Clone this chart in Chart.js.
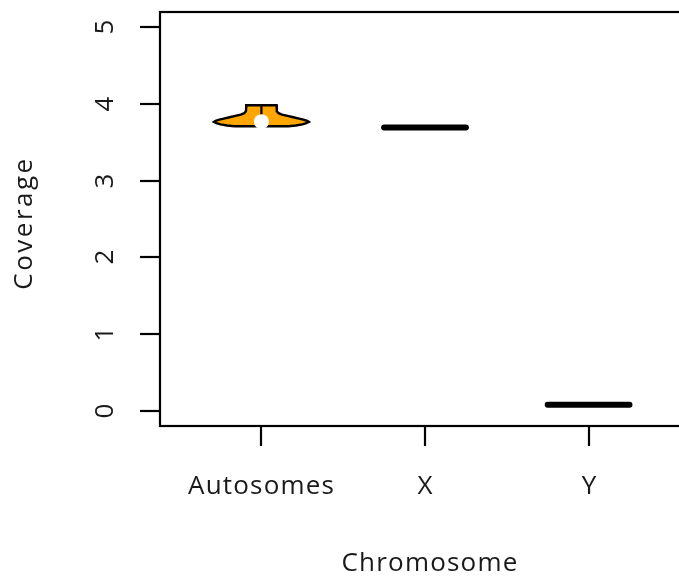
<!DOCTYPE html>
<html>
<head>
<meta charset="utf-8">
<title>Coverage par chromosome</title>
<script src="https://cdn.jsdelivr.net/npm/chart.js@4.4.1/dist/chart.umd.min.js"></script>
<style>
    html, body { margin: 0; padding: 0; background: #fff; overflow: hidden; }
    canvas { display: block; }
</style>
</head>
<body>
<canvas id="violinChart" width="700" height="580"></canvas>
<script>
// ==== DONNÉES ====

const categories = ['Autosomes', 'X', 'Y'];
const yTicks = [0, 1, 2, 3, 4, 5];

// Profil du violon "Autosomes" : niveaux de couverture et demi-largeur de densité
const autoLevels    = [3.709, 3.72, 3.735, 3.75, 3.766, 3.78, 3.796, 3.81, 3.827, 3.845, 3.861, 3.88, 3.905, 3.95, 3.983];
const autoHalfWidth = [0.165, 0.21, 0.25,  0.275, 0.29, 0.28, 0.257, 0.23, 0.195, 0.16,  0.126, 0.105, 0.095, 0.093, 0.093];
const autoMedian = 3.77;

// X et Y : valeurs constantes (violon aplati)
const flatLevels = [3.694, 0.078];
const flatHalfWidth = 0.25;

// ==== CONSTRUCTION DES JEUX DE DONNÉES ====

/**
 * Contour fermé du violon autour de la position x
 */
function violinOutline(pos, levels, widths) {
    const left = levels.map((y, i) => ({ x: pos - widths[i], y: y }));
    const right = levels.map((y, i) => ({ x: pos + widths[i], y: y })).reverse();
    return [...left, ...right, left[0]];
}

const autoMin = autoLevels[0];
const autoMax = autoLevels[autoLevels.length - 1];

const datasets = [
    {
        // Point médian blanc
        data: [{ x: 1, y: autoMedian }],
        pointRadius: 7.5,
        pointBackgroundColor: '#ffffff',
        pointBorderWidth: 0,
        showLine: false,
        order: 0
    },
    {
        // Moustache
        data: [{ x: 1, y: autoMin }, { x: 1, y: autoMax }],
        borderColor: '#000',
        borderWidth: 2.2,
        pointRadius: 0,
        showLine: true,
        order: 1
    },
    {
        // Violon
        data: violinOutline(1, autoLevels, autoHalfWidth),
        borderColor: '#000',
        borderWidth: 2.4,
        backgroundColor: '#FFA500',
        fill: 'shape',
        pointRadius: 0,
        tension: 0,
        showLine: true,
        order: 2
    }
];

// Lignes aplaties pour X et Y
flatLevels.forEach((level, i) => {
    const pos = i + 2;
    datasets.push({
        data: [{ x: pos - flatHalfWidth, y: level }, { x: pos + flatHalfWidth, y: level }],
        borderColor: '#000',
        borderWidth: 6,
        borderCapStyle: 'round',
        pointRadius: 0,
        showLine: true,
        order: 3
    });
});

// ==== AXES STYLE R ====

const FONT = '500 26px "Open Sans", sans-serif';

const rAxesPlugin = {
    id: 'rAxes',
    afterDraw(chart) {
        const ctx = chart.ctx;
        const area = chart.chartArea;
        const xs = chart.scales.x;
        const ys = chart.scales.y;

        ctx.save();
        ctx.strokeStyle = '#000';
        ctx.fillStyle = '#1a1a1a';
        ctx.lineWidth = 2.2;

        // Cadre
        ctx.strokeRect(area.left, area.top, area.right - area.left, area.bottom - area.top);

        // Graduations Y et étiquettes tournées
        ctx.font = FONT;
        ctx.textAlign = 'center';
        ctx.textBaseline = 'alphabetic';
        yTicks.forEach(v => {
            const py = Math.round(ys.getPixelForValue(v));
            ctx.beginPath();
            ctx.moveTo(area.left - 20, py);
            ctx.lineTo(area.left, py);
            ctx.stroke();
            ctx.save();
            ctx.translate(area.left - 47, py);
            ctx.rotate(-Math.PI / 2);
            ctx.fillText(String(v), 0, 0);
            ctx.restore();
        });

        // Graduations X et catégories
        ctx.letterSpacing = '1.2px';
        categories.forEach((name, i) => {
            const px = Math.round(xs.getPixelForValue(i + 1));
            ctx.beginPath();
            ctx.moveTo(px, area.bottom);
            ctx.lineTo(px, area.bottom + 20);
            ctx.stroke();
            ctx.fillText(name, px + 0.6, area.bottom + 68);
        });

        // Titres des axes
        ctx.fillText('Chromosome', xs.getPixelForValue(2) + 5, area.bottom + 145);
        ctx.save();
        ctx.letterSpacing = '2.5px';
        ctx.translate(area.left - 128, (area.top + area.bottom) / 2 + 4);
        ctx.rotate(-Math.PI / 2);
        ctx.fillText('Coverage', 0, 0);
        ctx.restore();

        ctx.restore();
    }
};

// ==== GRAPHIQUE ====

new Chart(document.getElementById('violinChart').getContext('2d'), {
    type: 'scatter',
    data: { datasets: datasets },
    options: {
        responsive: false,
        animation: false,
        layout: { padding: { left: 160, top: 12, right: 10, bottom: 154 } },
        plugins: {
            legend: { display: false },
            tooltip: { enabled: false }
        },
        scales: {
            x: { type: 'linear', min: 0.38, max: 3.62, display: false },
            y: { type: 'linear', min: -0.2, max: 5.2, display: false }
        }
    },
    plugins: [rAxesPlugin]
});
</script>
</body>
</html>
